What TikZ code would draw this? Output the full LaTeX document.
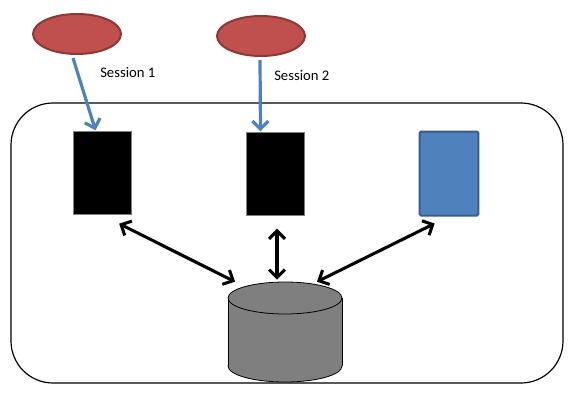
\documentclass[tikz,border=0pt]{standalone}
\usepackage{fontspec}
\setmainfont{Carlito}
\usetikzlibrary{arrows.meta,shapes.geometric,calc}
\definecolor{sessfill}{HTML}{C0504D}
\definecolor{sessline}{HTML}{8C3836}
\definecolor{blu}{HTML}{4F81BD}
\definecolor{bluline}{HTML}{385D8A}
\definecolor{dbgray}{HTML}{7F7F7F}
\begin{document}
\begin{tikzpicture}[x=0.75pt,y=-0.75pt,
 session/.style={ellipse, fill=sessfill, draw=sessline, line width=1.5pt, minimum width=66pt, minimum height=30pt, inner sep=0},
 blackbox/.style={rectangle, fill=black, draw=dbgray, line width=0.6pt, minimum width=44pt, minimum height=62pt, inner sep=0},
 bluebox/.style={rectangle, fill=blu, draw=bluline, line width=1.5pt, rounded corners=1pt, minimum width=44pt, minimum height=63pt, inner sep=0},
 bluearrow/.style={draw=blu, line width=2.4pt, -{Straight Barb[length=6pt,width=12pt]}},
 linkarrow/.style={draw=black, line width=2.3pt, {Straight Barb[length=6pt,width=12pt]}-{Straight Barb[length=6pt,width=12pt]}},
 lbl/.style={anchor=west, inner sep=0, font=\fontsize{11pt}{13pt}\selectfont},
 dbpart/.style={fill=dbgray, draw=black, line width=0.6pt}
]
\useasboundingbox (0,0) rectangle (583,418);
% outer frame
\node[draw, line width=0.9pt, rounded corners=31.5pt, minimum width=414pt, minimum height=210pt, inner sep=0] (frame) at (287,243) {};
% sessions
\node[session] (s1) at (77,34) {};
\node[session] (s2) at (261,36) {};
\node[lbl] (l1) at (100,73) {Session 1};
\node[lbl] (l2) at (274,76) {Session 2};
% boxes
\node[blackbox] (b1) at (102.5,173) {};
\node[blackbox] (b2) at (275.5,174) {};
\node[bluebox] (b3) at (449,173.5) {};
% database cylinder
\node[minimum width=85.5pt, minimum height=75pt, inner sep=0] (db) at (285,332) {};
\path[dbpart] (285,366) ellipse [x radius=42.75pt, y radius=12pt];
\fill[dbgray] (228,298) rectangle (342,366);
\draw[line width=0.6pt] (228,298) -- (228,366) (342,298) -- (342,366);
\path[dbpart] (285,298) ellipse [x radius=42.75pt, y radius=12pt];
% connector end points
\coordinate (f1) at ($(b1.south east)+(-13,9)$);
\coordinate (f2) at ($(b2.south)+(1.5,13)$);
\coordinate (f3) at ($(b3.south west)+(16,7)$);
\coordinate (t1) at ($(db.north)+(-50,0)$);
\coordinate (t2) at ($(db.north)+(-8,-2)$);
\coordinate (t3) at ($(db.north)+(32,0)$);
% blue arrows
\draw[bluearrow] ($(s1.south)+(-4,3)$) -- ($(b1.north)+(-7,-1)$);
\draw[bluearrow] ($(s2.south)+(-1,3)$) -- ($(b2.north)+(-15,-1)$);
% black double arrows
\draw[linkarrow] (f1) -- (t1);
\draw[linkarrow] (f2) -- (t2);
\draw[linkarrow] (f3) -- (t3);
\end{tikzpicture}
\end{document}
